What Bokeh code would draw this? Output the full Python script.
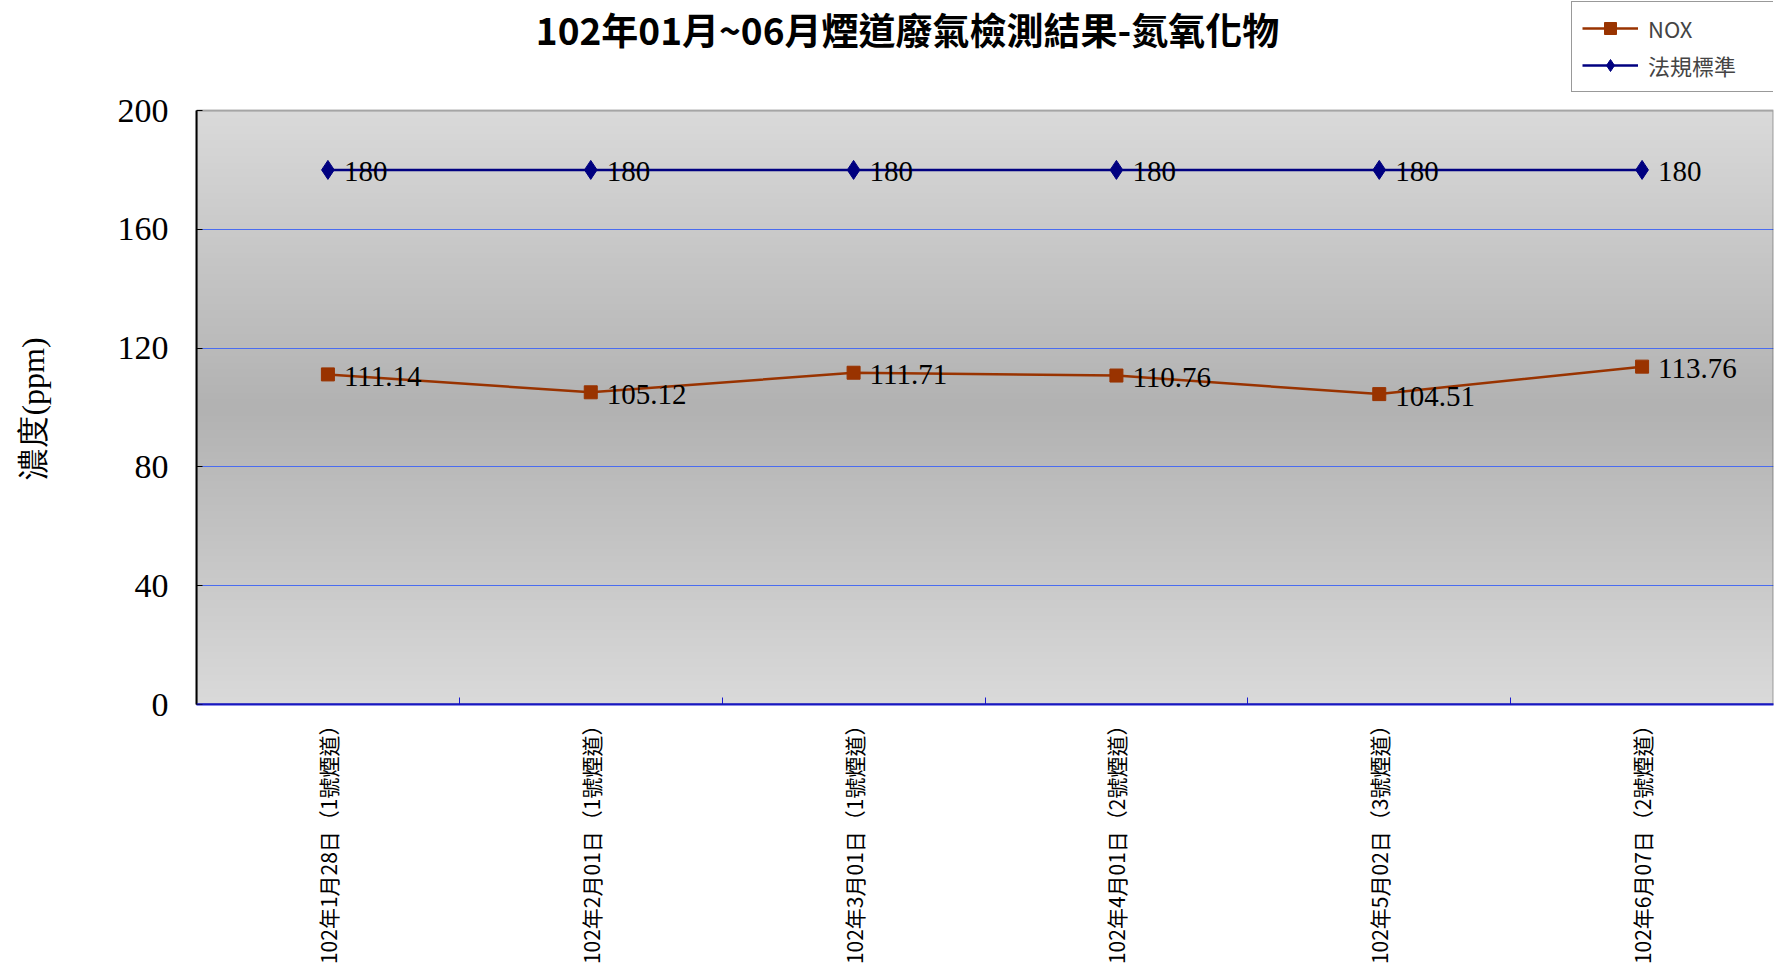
import math
import numpy as np
from bokeh.plotting import figure
from bokeh.models import (Range1d, FixedTicker, Label, Legend, LegendItem,
                          BoxAnnotation, Span)
from bokeh.core.properties import value
from bokeh.embed import file_html
from bokeh.resources import INLINE

# ---- data ----
categories = [
    "102年1月28日（1號煙道）",
    "102年2月01日（1號煙道）",
    "102年3月01日（1號煙道）",
    "102年4月01日（2號煙道）",
    "102年5月02日（3號煙道）",
    "102年6月07日（2號煙道）",
]
nox = [111.14, 105.12, 111.71, 110.76, 104.51, 113.76]
standard = [180, 180, 180, 180, 180, 180]
y_ticks = [0, 40, 80, 120, 160, 200]
series_names = ["NOX", "法規標準"]
title_text = "102年01月~06月煙道廢氣檢測結果-氮氧化物"
y_label = "濃度(ppm)"

# ---- layout (pixels) ----
W, H = 1780, 971
PLOT_LEFT, PLOT_RIGHT, PLOT_TOP, PLOT_BOTTOM = 196, 1773, 110, 704
BL, BR, BT, BB = PLOT_LEFT, W - PLOT_RIGHT, 0, H - PLOT_BOTTOM
FH = PLOT_BOTTOM - BT            # frame covers title/legend area too
PH = PLOT_BOTTOM - PLOT_TOP      # height of the actual plot area

n = len(categories)
xs = [i + 0.5 for i in range(n)]
y0, y1 = y_ticks[0], y_ticks[-1]
y_top = y0 + (y1 - y0) * FH / PH

p = figure(width=W, height=H, output_backend="svg", toolbar_location=None,
           x_range=Range1d(0, n), y_range=Range1d(y0, y_top),
           min_border_left=BL, min_border_right=BR, min_border_top=BT, min_border_bottom=BB)
p.border_fill_color = "white"
p.background_fill_color = "white"
p.outline_line_color = None

# background gradient (light - dark - light)
N = 300
t = np.linspace(0, 1, N)
g = (218 - 40 * (1 - np.abs(t - 0.5) * 2)).astype(np.uint8)
img = np.zeros((N, 1), dtype=np.uint32)
view = img.view(dtype=np.uint8).reshape((N, 1, 4))
view[:, 0, 0] = g
view[:, 0, 1] = g
view[:, 0, 2] = g
view[:, 0, 3] = 255
p.image_rgba(image=[img], x=0, y=y0, dw=n, dh=y1 - y0, level="image")

# grid
p.xgrid.visible = False
p.ygrid.ticker = FixedTicker(ticks=y_ticks[1:-1])
p.ygrid.grid_line_color = "#4a6cf0"
p.ygrid.grid_line_width = 1

# y axis
yax = p.yaxis[0]
yax.ticker = FixedTicker(ticks=y_ticks)
yax.bounds = (y0, y1)
yax.axis_line_color = "black"
yax.axis_line_width = 2
yax.major_tick_in = 6
yax.major_tick_out = 0
yax.major_tick_line_color = "black"
yax.minor_tick_line_color = None
yax.major_label_standoff = 28
yax.major_label_text_font = "Liberation Serif"
yax.major_label_text_font_size = "34px"
yax.major_label_text_color = "black"
# trailing no-break spaces shift the centred label down to the plot-area middle
yax.axis_label = y_label + "\u00a0" * 14
yax.axis_label_text_font = "Liberation Serif"
yax.axis_label_text_font_size = "32px"
yax.axis_label_text_font_style = "normal"
yax.axis_label_text_color = "black"
yax.axis_label_standoff = 64

# x axis
xax = p.xaxis[0]
xax.ticker = FixedTicker(ticks=xs, minor_ticks=list(range(1, n)))
xax.major_label_overrides = {x: c for x, c in zip(xs, categories)}
xax.major_label_orientation = math.pi / 2
xax.major_label_standoff = 4
xax.major_label_text_font = "Noto Sans CJK TC"
xax.major_label_text_font_size = "21px"
xax.major_label_text_color = "black"
xax.major_tick_line_color = None
xax.minor_tick_line_color = "#1a1ad0"
xax.minor_tick_in = 7
xax.minor_tick_out = 0
xax.axis_line_color = "#1a1ad0"
xax.axis_line_width = 2

# plot-area border
p.add_layout(BoxAnnotation(left=0, right=n, bottom=y0, top=y1, fill_alpha=0,
                           line_color="black", line_width=2))
p.add_layout(Span(location=y0, dimension="width", line_color="#1a1ad0", line_width=2))

# series
nox_color = "#993300"
std_color = "#000080"
l1 = p.line(xs, nox, line_color=nox_color, line_width=2.5)
m1 = p.scatter(xs, nox, marker="square", size=13, fill_color=nox_color, line_color=nox_color)
l2 = p.line(xs, standard, line_color=std_color, line_width=2.5)
m2 = p.scatter(xs, standard, marker="diamond", size=19,
               fill_color=std_color, line_color=std_color)

p.text(xs, nox, text=[f"{v:.2f}" for v in nox], x_offset=16, y_offset=2,
       text_baseline="middle", text_align="left", text_font=value("Liberation Serif"),
       text_font_size="29px", text_color="black")
p.text(xs, standard, text=[f"{v}" for v in standard], x_offset=16, y_offset=2,
       text_baseline="middle", text_align="left", text_font=value("Liberation Serif"),
       text_font_size="29px", text_color="black")

# legend
legend = Legend(items=[LegendItem(label=series_names[0], renderers=[l1, m1]),
                       LegendItem(label=series_names[1], renderers=[l2, m2])],
                location=(1571 - PLOT_LEFT, PLOT_BOTTOM - 92))
legend.border_line_color = "#333333"
legend.border_line_width = 1.5
legend.background_fill_color = "white"
legend.background_fill_alpha = 1
legend.label_text_font = "Noto Sans CJK TC"
legend.label_text_font_size = "22px"
legend.label_height = 30
legend.glyph_height = 30
legend.glyph_width = 56
legend.label_standoff = 10
legend.label_width = 115
legend.spacing = 5
legend.padding = 10
legend.margin = 0
p.add_layout(legend)

# title
p.add_layout(Label(x=907 - PLOT_LEFT, y=PLOT_BOTTOM - 28, x_units="screen", y_units="screen",
                   text=title_text, text_align="center", text_baseline="middle",
                   text_font="Noto Sans CJK TC", text_font_size="37px", text_font_style="bold",
                   text_color="black"))

open("out.html", "w").write(file_html(p, INLINE))
